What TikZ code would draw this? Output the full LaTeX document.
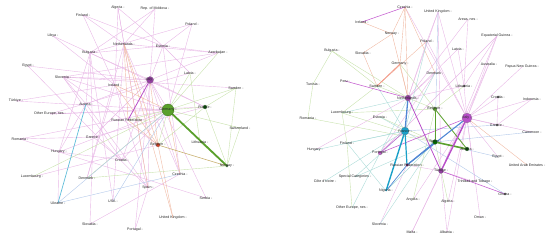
\documentclass[tikz,border=0pt]{standalone}
\usepackage{fontspec}
\setmainfont{Liberation Sans}
\usetikzlibrary{arrows.meta}
\definecolor{cpink}{HTML}{E8B8E6}
\definecolor{csalm}{HTML}{F0BAA4}
\definecolor{cgrn}{HTML}{C9E2AE}
\definecolor{cteal}{HTML}{ADDCD9}
\definecolor{cblu}{HTML}{B2C8EA}
\definecolor{cmag}{HTML}{C45CCF}
\definecolor{cgreen}{HTML}{5AA02C}
\definecolor{ccyan}{HTML}{1AA0C8}
\definecolor{cblue}{HTML}{5088D4}
\definecolor{cpurp}{HTML}{B84FC9}
\definecolor{colive}{HTML}{C8B070}
\tikzset{
  lbl/.style={font=\fontsize{3.6}{4}\selectfont, inner sep=0pt, text=black!85},
  ep/.style={draw=cpink, line width=0.4pt},
  es/.style={draw=csalm, line width=0.4pt},
  eg/.style={draw=cgrn, line width=0.4pt},
  et/.style={draw=cteal, line width=0.4pt},
  eb/.style={draw=cblu, line width=0.4pt},
  dot/.style={circle, inner sep=0pt, draw=black!50, line width=0.2pt},
}
\begin{document}
\begin{tikzpicture}[x=1pt,y=-1pt]
\useasboundingbox (0,0) rectangle (550,243);
% ---------- left panel coordinates
\coordinate (Lalg) at (118,8);
\coordinate (Lfin) at (83,15);
\coordinate (Lmol) at (155,9);
\coordinate (Lpol) at (192,24);
\coordinate (Llib) at (53,36);
\coordinate (Lnet) at (124,44);
\coordinate (Lest) at (163,46);
\coordinate (Laze) at (218,53);
\coordinate (Lbul) at (90,53);
\coordinate (Legy) at (28,66);
\coordinate (Lslo) at (63,77);
\coordinate (Llat) at (190,73);
\coordinate (Lita) at (150,80);
\coordinate (Lire) at (115,85);
\coordinate (Lswe) at (236,88);
\coordinate (Ltur) at (16,101);
\coordinate (Laus) at (86,104);
\coordinate (Lger) at (168,110);
\coordinate (Lfra) at (205,107);
\coordinate (Loth) at (50,114);
\coordinate (Lrus) at (128,120);
\coordinate (Lswi) at (240,128);
\coordinate (Lrom) at (20,139);
\coordinate (Lgre) at (93,137);
\coordinate (Lbel) at (158,145);
\coordinate (Llit) at (200,142);
\coordinate (Lhun) at (59,152);
\coordinate (Lnor) at (227,166);
\coordinate (Lcro) at (122,160);
\coordinate (Llux) at (32,177);
\coordinate (Lden) at (87,178);
\coordinate (Lcze) at (180,174);
\coordinate (Lspa) at (148,188);
\coordinate (Lukr) at (58,203);
\coordinate (Lusa) at (113,201);
\coordinate (Lser) at (206,198);
\coordinate (Lslk) at (90,224);
\coordinate (Luk) at (173,218);
\coordinate (Lpor) at (135,230);
% ---------- right panel coordinates
\coordinate (Rcze) at (405,7);
\coordinate (Ruk) at (438,12);
\coordinate (Rare) at (468,19);
\coordinate (Rire) at (362,22);
\coordinate (Rnor) at (392,34);
\coordinate (Requ) at (497,36);
\coordinate (Rpol) at (427,41);
\coordinate (Rlat) at (458,49);
\coordinate (Rbul) at (332,51);
\coordinate (Rslk) at (363,53);
\coordinate (Raus) at (489,64);
\coordinate (Rpng) at (522,67);
\coordinate (Rger) at (400,64);
\coordinate (Rden) at (435,73);
\coordinate (Rper) at (345,81);
\coordinate (Rtun) at (313,84);
\coordinate (Rswe) at (377,86);
\coordinate (Rlit) at (464,86);
\coordinate (Rnet) at (408,98);
\coordinate (Rcro) at (498,97);
\coordinate (Rind) at (532,99);
\coordinate (Rlux) at (342,113);
\coordinate (Rrom) at (308,118);
\coordinate (Rest) at (380,117);
\coordinate (Rbel) at (435,109);
\coordinate (Rita) at (467,118);
\coordinate (Rfin) at (347,143);
\coordinate (Rhun) at (315,150);
\coordinate (Rfra) at (405,131);
\coordinate (Rpor) at (380,153);
\coordinate (Rspa) at (435,142);
\coordinate (Rcam) at (532,132);
\coordinate (Rgre) at (497,125);
\coordinate (Rrus) at (407,165);
\coordinate (Regy) at (498,157);
\coordinate (Ruae) at (527,165);
\coordinate (Raut) at (467,149);
\coordinate (Rcot) at (325,181);
\coordinate (Rspc) at (355,177);
\coordinate (Rnig) at (386,191);
\coordinate (Rtri) at (475,182);
\coordinate (Rtur) at (441,171);
\coordinate (Rgha) at (505,194);
\coordinate (Rang) at (413,200);
\coordinate (Ralg) at (448,202);
\coordinate (Roth) at (352,208);
\coordinate (Rslo) at (380,224);
\coordinate (Roma) at (480,217);
\coordinate (Rmal) at (412,232);
\coordinate (Ralb) at (447,232);
% ---------- left edges
\foreach \a/\b in {Lalg/Lnet,Lalg/Lire,Lalg/Lspa,Lalg/Lest,Lfin/Lnet,Lfin/Lest,Lfin/Lire,Lmol/Lnet,Lmol/Lita,Lmol/Lbul,Lpol/Lest,Lpol/Lbul,Lpol/Lger,Llib/Lbul,Llib/Lire,Lest/Llat,Lest/Lita,Lest/Lbul,Lest/Lcze,Laze/Lita,Laze/Lnet,Laze/Lest,Laze/Lslo,Lbul/Lita,Lbul/Lgre,Lbul/Laus,Lbul/Lhun,Lbul/Lfra,Legy/Lita,Legy/Lspa,Lslo/Lita,Lslo/Laus,Lslo/Lcro,Lslo/Lger,Lslo/Lbel,Lslo/Lswe,Lita/Lger,Lita/Lfra,Lita/Lspa,Lita/Lgre,Lita/Lcze,Ltur/Lire,Ltur/Lger,Laus/Lita,Laus/Lhun,Laus/Lspa,Loth/Lfra,Loth/Lger,Lrom/Lgre,Lrom/Lger,Lrom/Lhun,Lgre/Lcro,Lgre/Lfra,Lhun/Lcro,Lhun/Lukr,Lhun/Lger,Lcro/Lita,Lcro/Lger,Lcze/Lnet,Lusa/Lbul,Lusa/Lnet,Lser/Lita,Lser/Lhun,Lslk/Lgre,Lslk/Lcze,Lpor/Lita,Lpor/Lspa,Lden/Lire,Llux/Lbel,Lire/Lspa,Llat/Loth,Lden/Lnet}
  \draw[ep] (\a) -- (\b);
\foreach \a/\b in {Lnet/Lrus,Lnet/Lbel,Lnet/Lspa,Lire/Lger,Lire/Lbel,Lbel/Luk,Luk/Lnet,Lita/Lbel,Lrus/Lbel,Lcze/Lger}
  \draw[es] (\a) -- (\b);
\foreach \a/\b in {Lswe/Lger,Lswe/Lnor,Lswe/Lfra,Llat/Lger,Llat/Llit,Lger/Lfra,Lger/Lswi,Lger/Lbel,Lfra/Lbel,Lfra/Lnor,Lswi/Lnor,Llit/Lnor,Lden/Lger,Lden/Lnor,Llux/Lger,Lrus/Lger,Laze/Lger}
  \draw[eg] (\a) -- (\b);
\foreach \a/\b in {Lukr/Lcze,Lukr/Lger,Lusa/Lger}
  \draw[eb] (\a) -- (\b);
\draw[draw=colive, line width=0.6pt] (Lbel) -- (Lnor);
\draw[draw=ccyan!70, line width=0.7pt] (Lukr) -- (Laus);
\draw[draw=cpurp, line width=0.8pt] (Lrus) -- (Lita);
\draw[draw=cgreen, line width=1.8pt, -{Stealth[length=5pt,width=4pt]}] (Lnor) -- (Lger);
% ---------- right edges
\foreach \a/\b in {Rcze/Rita,Ruk/Rita,Ruk/Rnet,Ruk/Rpol,Rare/Rnet,Rare/Rlit,Requ/Rita,Requ/Rlit,Requ/Rpor,Requ/Rtur,Rlat/Rlit,Rlat/Rnet,Raus/Rita,Raus/Rtur,Rpng/Rita,Rlit/Rita,Rlit/Rnet,Rcro/Rita,Rcro/Rgre,Rind/Rita,Rind/Rgre,Rcam/Rita,Rgre/Rita,Rtri/Rita,Rtri/Rtur,Rang/Rita,Ralg/Rita,Roma/Rita,Rmal/Rtur,Rmal/Rita,Ralb/Rita,Ralb/Rtur,Rslo/Rrus,Rhun/Rnet,Rden/Rnet,Rden/Rpor,Rpol/Rnet,Regy/Rita,Rtur/Rrus,Rpol/Rita,Ruk/Rtur}
  \draw[ep] (\a) -- (\b);
\foreach \a/\b in {Rcze/Rnor,Rcze/Rger,Rire/Rnor,Rnor/Rslk,Rnor/Rnet,Rger/Rnet,Rcze/Rnet,Ruae/Rita,Rslk/Rswe,Rpol/Rswe,Rcze/Rden}
  \draw[es] (\a) -- (\b);
\foreach \a/\b in {Rbul/Rnet,Rbul/Rswe,Rbul/Rtun,Rtun/Rrom,Rrom/Rspa,Rlux/Rbel,Rlux/Rspa,Rlux/Rswe,Rest/Rspa,Ralg/Rspa,Rbel/Rnet,Rger/Rbel,Rlit/Rbel,Rfin/Roth,Rfin/Rlux,Rswe/Rnet,Rang/Rbel}
  \draw[eg] (\a) -- (\b);
\foreach \a/\b in {Rcot/Rfra,Rspc/Rfra,Rspc/Rspa,Rhun/Rfra,Rfin/Rfra,Rest/Rfra,Rswe/Rfra,Roth/Rnet,Rslo/Rspa,Rnig/Rspa,Rlux/Rnet,Rden/Rfra,Rpol/Rfra,Rfin/Rnig}
  \draw[et] (\a) -- (\b);
\foreach \a/\b in {Rgha/Rfra,Regy/Rspa,Ruk/Rspa,Rgre/Rfra,Rcam/Rspa}
  \draw[eb] (\a) -- (\b);
\draw[draw=cmag, line width=0.55pt] (Rire) -- (Rcze);
\draw[draw=cmag, line width=0.55pt] (Rper) -- (Rnet);
\draw[draw=cmag, line width=0.55pt] (Rpor) -- (Rfra);
\draw[draw=cmag, line width=0.55pt] (Rtur) -- (Rgha);
\draw[draw=cmag, line width=0.55pt] (Rpor) -- (Rita);
\draw[draw=csalm!80!red, line width=0.8pt] (Rger) -- (Rswe);
\draw[draw=cgreen, line width=0.8pt] (Rbel) -- (Rspa);
\draw[draw=cgreen, line width=0.8pt] (Rbel) -- (Raut);
\draw[draw=cgreen, line width=1.6pt] (Rspa) -- (Raut);
\draw[draw=cblue, line width=1.3pt] (Rnet) -- (Rfra);
\draw[draw=cblue, line width=1.1pt] (Rrus) -- (Rita);
\draw[draw=cblue, line width=1.1pt] (Rrus) -- (Rspa);
\draw[draw=cblue, line width=0.7pt] (Rnig) -- (Rrus);
\draw[draw=cpurp, line width=0.8pt] (Rnet) -- (Rtur);
\draw[draw=ccyan, line width=1.4pt, -{Stealth[length=4pt,width=3.5pt]}] (Rnig) -- (Rfra);
\draw[draw=ccyan, line width=1.2pt, -{Stealth[length=4pt,width=3.5pt]}] (Rrus) -- (Rfra);
\draw[draw=cpurp, line width=1.4pt, -{Stealth[length=4pt,width=3.5pt]}] (Rtur) -- (Rita);
% ---------- node markers
\node[dot, fill=cgreen, minimum size=12pt, draw=cgreen!60!black] (Mlger) at (Lger) {};
\node[dot, fill=cpurp!80!black, minimum size=7pt] (Mlita) at (Lita) {};
\node[dot, fill=green!30!black, minimum size=4pt] (Mlfra) at (Lfra) {};
\node[dot, fill=red!50!brown, minimum size=4pt] (Mlbel) at (Lbel) {};
\node[dot, fill=green!30!black, minimum size=2.5pt] (Mlnor) at (Lnor) {};
\node[dot, fill=cpurp, minimum size=10pt] (Mrita) at (Rita) {};
\node[dot, fill=ccyan, minimum size=8pt] (Mrfra) at (Rfra) {};
\node[dot, fill=cpurp!80!black, minimum size=6pt] (Mrnet) at (Rnet) {};
\node[dot, fill=green!40!black, minimum size=5pt] (Mrspa) at (Rspa) {};
\node[dot, fill=cgreen, minimum size=4pt] (Mrbel) at (Rbel) {};
\node[dot, fill=green!30!black, minimum size=4pt] (Mraut) at (Raut) {};
\node[dot, fill=cpurp!80!black, minimum size=5pt] (Mrtur) at (Rtur) {};
\node[dot, fill=cmag, minimum size=4pt] (Mrpor) at (Rpor) {};
\node[dot, fill=violet!70!black, minimum size=3pt] (Mrrus) at (Rrus) {};
\node[dot, fill=black!70, minimum size=2.5pt] (Mrgre) at (Rgre) {};
\node[dot, fill=black!70, minimum size=2.5pt] (Mrgha) at (Rgha) {};
\node[dot, fill=black!70, minimum size=2.5pt] (Mrcro) at (Rcro) {};
\node[dot, fill=black!70, minimum size=2.5pt] (Mrlit) at (Rlit) {};
% ---------- left labels
\node[lbl] (tLalg) at (Lalg) {Algeria -};
\node[lbl] (tLfin) at (Lfin) {Finland -};
\node[lbl] (tLmol) at (Lmol) {Rep. of Moldova -};
\node[lbl] (tLpol) at (Lpol) {Poland -};
\node[lbl] (tLlib) at (Llib) {Libya -};
\node[lbl] (tLnet) at (Lnet) {Netherlands -};
\node[lbl] (tLest) at (Lest) {Estonia -};
\node[lbl] (tLaze) at (Laze) {Azerbaijan -};
\node[lbl] (tLbul) at (Lbul) {Bulgaria -};
\node[lbl] (tLegy) at (Legy) {Egypt -};
\node[lbl] (tLslo) at (Lslo) {Slovenia -};
\node[lbl] (tLlat) at (Llat) {Latvia -};
\node[lbl] (tLita) at (Lita) {Italy -};
\node[lbl] (tLire) at (Lire) {Ireland -};
\node[lbl] (tLswe) at (Lswe) {Sweden -};
\node[lbl] (tLtur) at (Ltur) {Türkiye -};
\node[lbl] (tLaus) at (Laus) {Austria -};
\node[lbl] (tLger) at (Lger) {Germany -};
\node[lbl] (tLfra) at (Lfra) {France -};
\node[lbl] (tLoth) at (Loth) {Other Europe, nes -};
\node[lbl] (tLrus) at (Lrus) {Russian Federation -};
\node[lbl] (tLswi) at (Lswi) {Switzerland -};
\node[lbl] (tLrom) at (Lrom) {Romania -};
\node[lbl] (tLgre) at (Lgre) {Greece -};
\node[lbl] (tLbel) at (Lbel) {Belgium -};
\node[lbl] (tLlit) at (Llit) {Lithuania -};
\node[lbl] (tLhun) at (Lhun) {Hungary -};
\node[lbl] (tLnor) at (Lnor) {Norway -};
\node[lbl] (tLcro) at (Lcro) {Croatia -};
\node[lbl] (tLlux) at (Llux) {Luxembourg -};
\node[lbl] (tLden) at (Lden) {Denmark -};
\node[lbl] (tLcze) at (Lcze) {Czechia -};
\node[lbl] (tLspa) at (Lspa) {Spain -};
\node[lbl] (tLukr) at (Lukr) {Ukraine -};
\node[lbl] (tLusa) at (Lusa) {USA -};
\node[lbl] (tLser) at (Lser) {Serbia -};
\node[lbl] (tLslk) at (Lslk) {Slovakia -};
\node[lbl] (tLuk) at (Luk) {United Kingdom -};
\node[lbl] (tLpor) at (Lpor) {Portugal -};
% ---------- right labels
\node[lbl] (tRcze) at (Rcze) {Czechia -};
\node[lbl] (tRuk) at (Ruk) {United Kingdom -};
\node[lbl] (tRare) at (Rare) {Areas, nes -};
\node[lbl] (tRire) at (Rire) {Ireland -};
\node[lbl] (tRnor) at (Rnor) {Norway -};
\node[lbl] (tRequ) at (Requ) {Equatorial Guinea -};
\node[lbl] (tRpol) at (Rpol) {Poland -};
\node[lbl] (tRlat) at (Rlat) {Latvia -};
\node[lbl] (tRbul) at (Rbul) {Bulgaria -};
\node[lbl] (tRslk) at (Rslk) {Slovakia -};
\node[lbl] (tRaus) at (Raus) {Australia -};
\node[lbl] (tRpng) at (Rpng) {Papua New Guinea -};
\node[lbl] (tRger) at (Rger) {Germany -};
\node[lbl] (tRden) at (Rden) {Denmark -};
\node[lbl] (tRper) at (Rper) {Peru -};
\node[lbl] (tRtun) at (Rtun) {Tunisia -};
\node[lbl] (tRswe) at (Rswe) {Sweden -};
\node[lbl] (tRlit) at (Rlit) {Lithuania -};
\node[lbl] (tRnet) at (Rnet) {Netherlands -};
\node[lbl] (tRcro) at (Rcro) {Croatia -};
\node[lbl] (tRind) at (Rind) {Indonesia -};
\node[lbl] (tRlux) at (Rlux) {Luxembourg -};
\node[lbl] (tRrom) at (Rrom) {Romania -};
\node[lbl] (tRest) at (Rest) {Estonia -};
\node[lbl] (tRbel) at (Rbel) {Belgium -};
\node[lbl] (tRita) at (Rita) {Italy -};
\node[lbl] (tRfin) at (Rfin) {Finland -};
\node[lbl] (tRhun) at (Rhun) {Hungary -};
\node[lbl] (tRfra) at (Rfra) {France -};
\node[lbl] (tRpor) at (Rpor) {Portugal -};
\node[lbl] (tRspa) at (Rspa) {Spain -};
\node[lbl] (tRcam) at (Rcam) {Cameroon -};
\node[lbl] (tRgre) at (Rgre) {Greece -};
\node[lbl] (tRrus) at (Rrus) {Russian Federation -};
\node[lbl] (tRegy) at (Regy) {Egypt -};
\node[lbl] (tRuae) at (Ruae) {United Arab Emirates -};
\node[lbl] (tRaut) at (Raut) {Austria -};
\node[lbl] (tRcot) at (Rcot) {Côte d'Ivoire -};
\node[lbl] (tRspc) at (Rspc) {Special Categories -};
\node[lbl] (tRnig) at (Rnig) {Nigeria -};
\node[lbl] (tRtri) at (Rtri) {Trinidad and Tobago -};
\node[lbl] (tRtur) at (Rtur) {Türkiye -};
\node[lbl] (tRgha) at (Rgha) {Ghana -};
\node[lbl] (tRang) at (Rang) {Angola -};
\node[lbl] (tRalg) at (Ralg) {Algeria -};
\node[lbl] (tRoth) at (Roth) {Other Europe, nes -};
\node[lbl] (tRslo) at (Rslo) {Slovenia -};
\node[lbl] (tRoma) at (Roma) {Oman -};
\node[lbl] (tRmal) at (Rmal) {Malta -};
\node[lbl] (tRalb) at (Ralb) {Albania -};
\end{tikzpicture}
\end{document}
